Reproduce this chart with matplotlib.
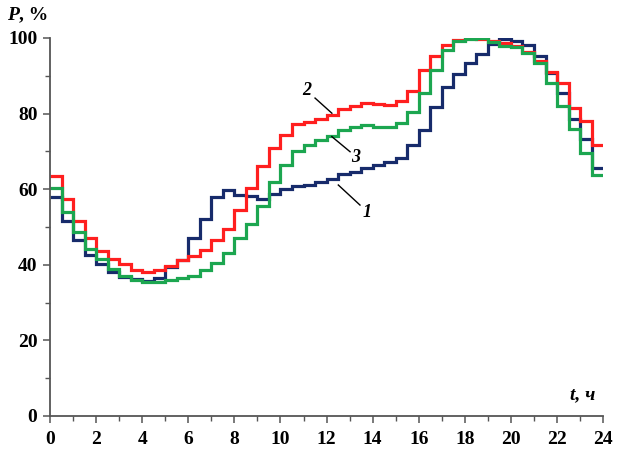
import matplotlib
matplotlib.use("Agg")
import matplotlib.pyplot as plt
import numpy as np

hours = np.arange(0, 24.5, 0.5)  # step edges (49)

series1 = [58.0, 51.7, 46.6, 42.6, 40.2, 38.0, 36.8, 36.2, 35.8, 36.4, 39.5, 41.2,
           47.2, 52.1, 58.0, 59.7, 58.5, 58.3, 57.5, 58.6, 60.0, 60.8, 61.0, 61.8,
           62.6, 64.0, 64.6, 65.5, 66.4, 67.3, 68.2, 71.7, 75.7, 81.7, 87.1, 90.4,
           93.3, 95.7, 98.3, 99.7, 99.2, 98.1, 95.2, 90.8, 85.4, 78.6, 73.4, 65.5]
series2 = [63.4, 57.3, 51.7, 47.0, 43.7, 41.6, 40.2, 38.5, 38.1, 38.5, 39.7, 41.2,
           42.3, 43.9, 46.5, 49.5, 54.5, 60.3, 66.0, 71.0, 74.2, 77.2, 77.7, 78.6,
           79.7, 81.1, 82.0, 82.7, 82.5, 82.3, 83.4, 86.1, 91.5, 95.1, 98.1, 99.5,
           99.9, 99.7, 99.2, 98.7, 98.0, 96.3, 93.8, 91.0, 88.0, 81.6, 78.0, 71.8]
series3 = [60.2, 54.0, 48.6, 44.2, 41.5, 38.8, 37.0, 36.0, 35.5, 35.5, 36.0, 36.5,
           37.0, 38.6, 40.4, 43.0, 47.0, 50.8, 55.6, 62.0, 66.4, 70.0, 71.7, 73.0,
           74.1, 75.7, 76.5, 77.0, 76.5, 76.4, 77.4, 80.5, 85.5, 91.4, 96.7, 99.3,
           99.7, 100.0, 98.8, 98.0, 97.5, 96.1, 93.3, 88.2, 82.0, 75.8, 69.7, 63.8]

x_ticks = list(range(0, 25, 2))
y_ticks = list(range(0, 101, 20))

c1 = "#172b6b"
c2 = "#ff1f1f"
c3 = "#1ca650"

serif = ["Liberation Serif", "DejaVu Serif"]

fig = plt.figure(figsize=(6.25, 4.53), dpi=100)
ax = fig.add_axes([0.08, 0.0817, 0.885, 0.8345])

lw = 2.3
ax.stairs(series1, hours, baseline=None, color=c1, linewidth=lw, zorder=3)
ax.stairs(series2, hours, baseline=None, color=c2, linewidth=lw, zorder=4)
ax.stairs(series3, hours, baseline=None, color=c3, linewidth=lw, zorder=5)

ax.set_xlim(0, 24)
ax.set_ylim(0, 100)
ax.set_xticks(x_ticks)
ax.set_yticks(y_ticks)
ax.set_xticks(range(1, 24, 2), minor=True)
ax.set_yticks(range(10, 100, 20), minor=True)

for s in ["top", "right"]:
    ax.spines[s].set_visible(False)
for s in ["left", "bottom"]:
    ax.spines[s].set_color("#555555")
    ax.spines[s].set_linewidth(1.3)
    ax.spines[s].set_zorder(6)

ax.tick_params(which="major", direction="out", length=5, width=1.1, color="#555555", pad=4)
ax.tick_params(which="minor", direction="out", length=3.5, width=1.0, color="#555555")
for lab in ax.get_xticklabels() + ax.get_yticklabels():
    lab.set_fontfamily(serif)
    lab.set_fontweight("bold")
    lab.set_fontsize(14)
ax.tick_params(axis="x", pad=6)

# axis labels
tP = fig.text(7 / 625, 1 - 15 / 453, "P", family=serif, fontweight="bold",
              fontstyle="italic", fontsize=14, va="center", ha="left")
ax.annotate(", %", xy=(1, 0), xycoords=tP, va="bottom", ha="left",
            family=serif, fontweight="bold", fontsize=14)
ax.text(23.65, 5.5, "t, ч", family=serif, fontweight="bold", fontstyle="italic",
        fontsize=14, ha="right", va="center")

# curve labels with leader lines
lab_kw = dict(family=serif, fontweight="bold", fontstyle="italic", fontsize=13,
              ha="center", va="center")
ax.text(11.15, 86.2, "2", **lab_kw)
ax.plot([11.5, 12.23], [84.1, 80.1], color="black", lw=1.0, zorder=7)
ax.text(13.25, 68.3, "3", **lab_kw)
ax.plot([12.23, 13.02], [73.9, 69.9], color="black", lw=1.0, zorder=7)
ax.text(13.75, 53.7, "1", **lab_kw)
ax.plot([12.51, 13.45], [61.1, 55.8], color="black", lw=1.0, zorder=7)

fig.savefig("out.png", dpi=100)
